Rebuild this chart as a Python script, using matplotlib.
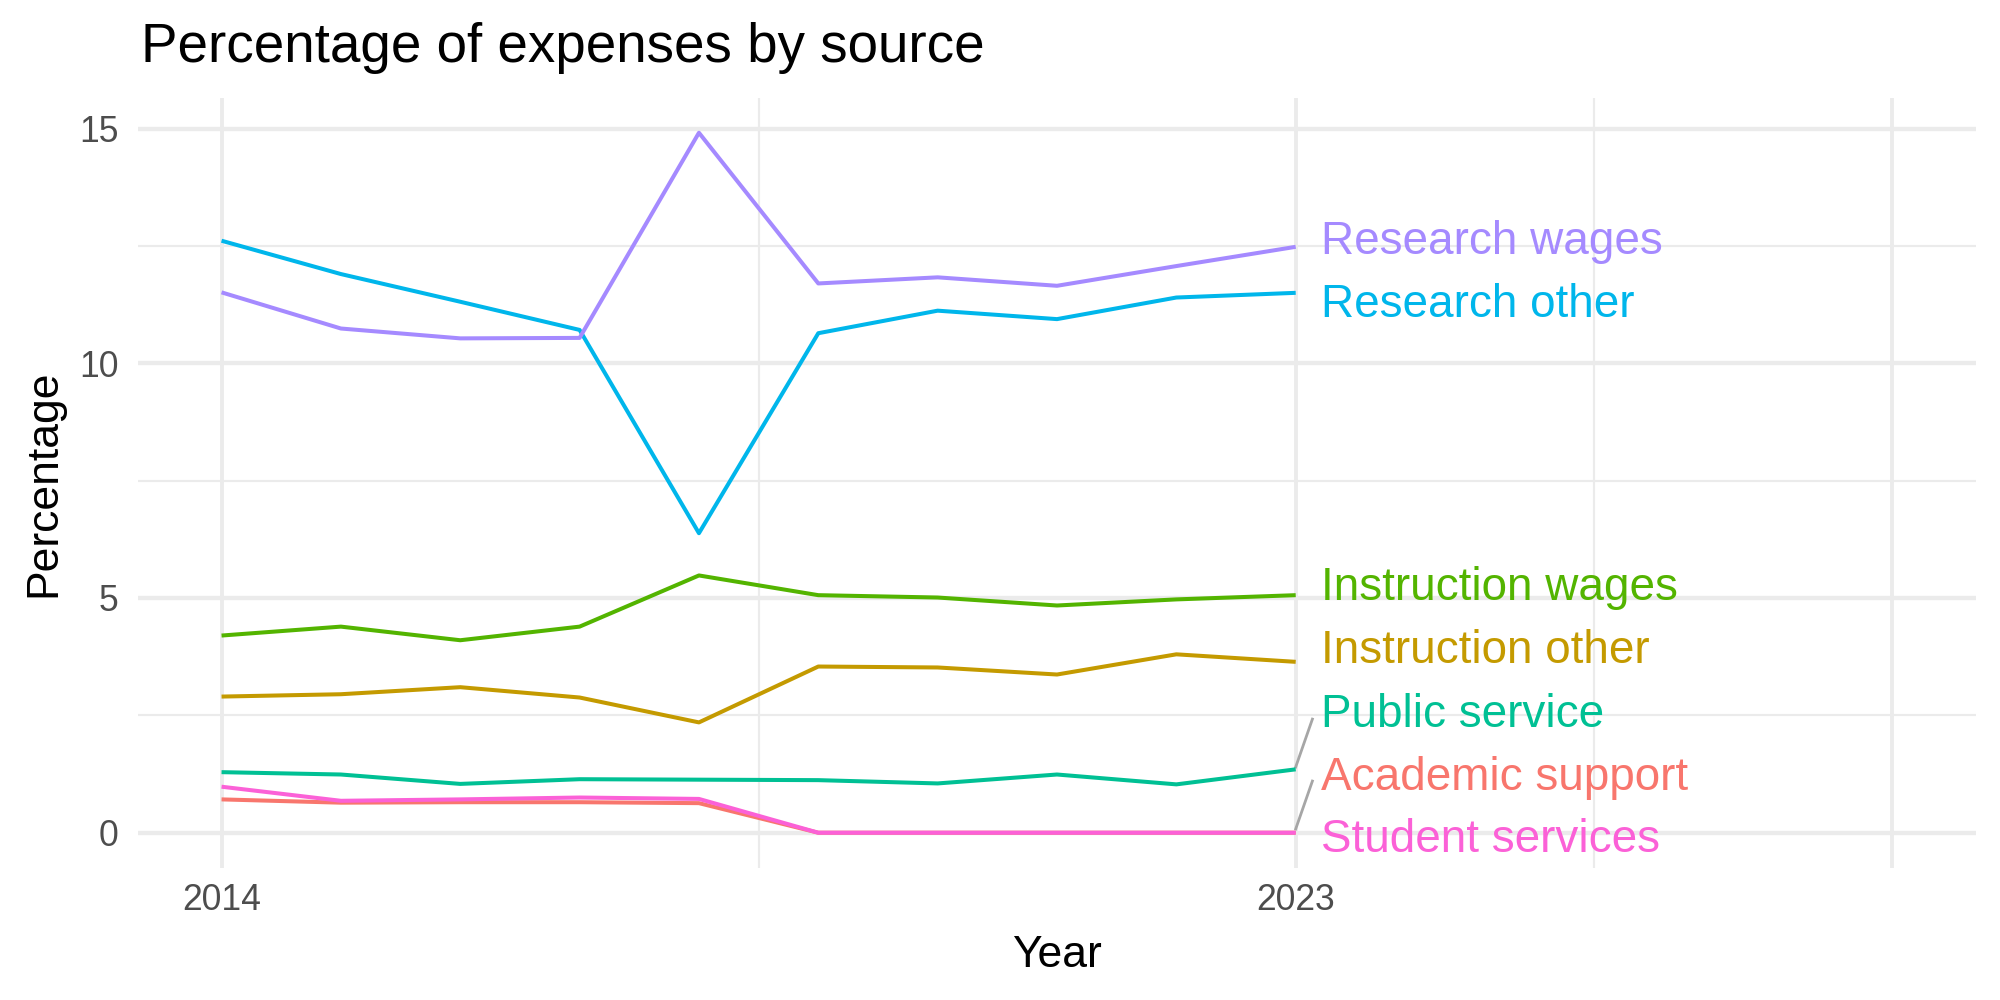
import matplotlib
matplotlib.use("Agg")
import matplotlib.pyplot as plt

plt.rcParams['font.family'] = ['Liberation Sans', 'DejaVu Sans']

# data
years = [2014, 2015, 2016, 2017, 2018, 2019, 2020, 2021, 2022, 2023]
academic_support = [0.71, 0.64, 0.65, 0.65, 0.63, 0, 0, 0, 0, 0]
instruction_other = [2.90, 2.95, 3.10, 2.88, 2.35, 3.54, 3.52, 3.37, 3.80, 3.64]
instruction_wages = [4.20, 4.39, 4.10, 4.39, 5.48, 5.06, 5.01, 4.84, 4.97, 5.06]
public_service = [1.29, 1.24, 1.04, 1.14, 1.13, 1.12, 1.05, 1.24, 1.03, 1.35]
research_other = [12.61, 11.90, 11.31, 10.71, 6.38, 10.64, 11.12, 10.94, 11.40, 11.50]
research_wages = [11.51, 10.74, 10.53, 10.54, 14.91, 11.70, 11.83, 11.65, 12.07, 12.48]
student_services = [0.98, 0.68, 0.71, 0.75, 0.72, 0, 0, 0, 0, 0]

names = ["Academic support", "Instruction other", "Instruction wages", "Public service",
         "Research other", "Research wages", "Student services"]
series = [academic_support, instruction_other, instruction_wages, public_service,
          research_other, research_wages, student_services]
colors = ["#F8766D", "#C49A00", "#53B400", "#00C094", "#00B6EB", "#A58AFF", "#FB61D7"]

# label placement (repelled positions, baselines)
label_y = [0.92, 3.61, 4.96, 2.26, 10.99, 12.33, -0.40]
label_x = 2023.21

fig = plt.figure(figsize=(10, 5), dpi=200)
ax = fig.add_axes([0.069, 0.1323, 0.919, 0.7697])

grid_col = "#EBEBEB"
for y in [2.5, 7.5, 12.5]:
    ax.axhline(y, color=grid_col, lw=0.78, zorder=0)
for y in [0, 5, 10, 15]:
    ax.axhline(y, color=grid_col, lw=1.55, zorder=0)
for x in [2018.5, 2025.5]:
    ax.axvline(x, color=grid_col, lw=0.78, zorder=0)
for x in [2014, 2023, 2028]:
    ax.axvline(x, color=grid_col, lw=1.4, zorder=0)

for name, vals, c in zip(names, series, colors):
    ax.plot(years, vals, color=c, lw=1.45, zorder=2, solid_capstyle='butt')

# repel segments
seg_col = "#A6A6A6"
ax.plot([2023, 2023.14], [public_service[-1] + 0.05, 2.42], color=seg_col, lw=1.0, zorder=1)
ax.plot([2023, 2023.14], [academic_support[-1] + 0.08, 1.10], color=seg_col, lw=1.0, zorder=1)

for name, ly, c in zip(names, label_y, colors):
    ax.text(label_x, ly, name, color=c, fontsize=16.5, ha='left', va='baseline',
            zorder=3, clip_on=False)

ax.set_xlim(2013.3, 2028.7)
ax.set_ylim(-0.745, 15.65)
ax.set_xticks([2014, 2023])
ax.set_yticks([0, 5, 10, 15])
ax.tick_params(length=0, labelsize=12.8, labelcolor="#4D4D4D")
ax.tick_params(axis='x', pad=5.5)
ax.tick_params(axis='y', pad=7)
for s in ax.spines.values():
    s.set_visible(False)

fig.text(0.5285, 0.033, "Year", fontsize=16, ha='center', va='baseline')
fig.text(0.022, 0.517, "Percentage", fontsize=16, ha='center', va='center', rotation=90)
fig.text(0.0705, 0.938, "Percentage of expenses by source", fontsize=19.7,
         ha='left', va='baseline')

fig.savefig("out.png", dpi=200, facecolor='white')
